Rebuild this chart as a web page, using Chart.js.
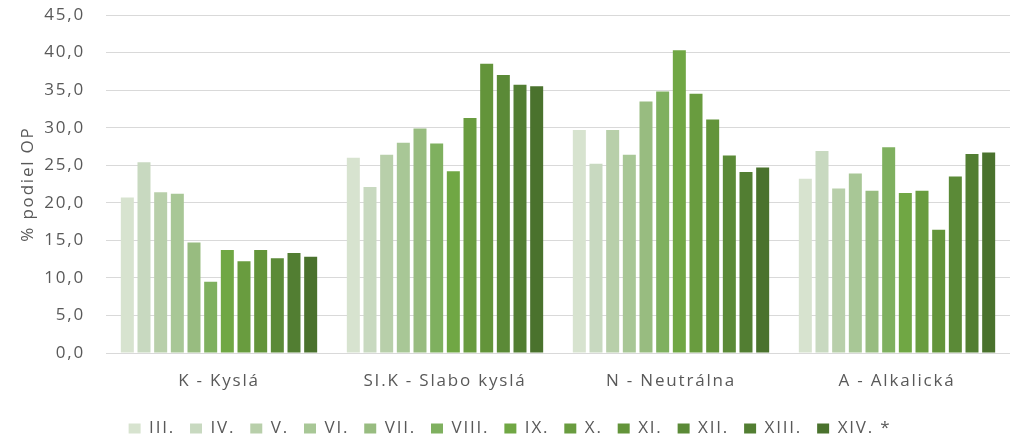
<!DOCTYPE html>
<html>
<head>
<meta charset="utf-8">
<script src="https://cdn.jsdelivr.net/npm/chart.js@4"></script>
<style>
  html, body { margin: 0; padding: 0; background: #ffffff; }
  #wrap { width: 1010px; height: 444px; position: relative; }
</style>
</head>
<body>
<div id="wrap"><canvas id="chart"></canvas></div>
<script>
// Categories (soil reaction classes)
const categories = ['K - Kyslá', 'SI.K - Slabo kyslá', 'N - Neutrálna', 'A - Alkalická'];

// Series names (legend)
const seriesNames = ['III.', 'IV.', 'V.', 'VI.', 'VII.', 'VIII.', 'IX.', 'X.', 'XI.', 'XII.', 'XIII.', 'XIV. *'];

// Values per series, in category order: K, SI.K, N, A
const valIII  = [20.7, 26.0, 29.7, 23.2];
const valIV   = [25.4, 22.1, 25.2, 26.9];
const valV    = [21.4, 26.4, 29.7, 21.9];
const valVI   = [21.2, 28.0, 26.4, 23.9];
const valVII  = [14.7, 29.9, 33.5, 21.6];
const valVIII = [9.5, 27.9, 34.8, 27.4];
const valIX   = [13.7, 24.2, 40.3, 21.3];
const valX    = [12.2, 31.3, 34.5, 21.6];
const valXI   = [13.7, 38.5, 31.1, 16.4];
const valXII  = [12.6, 37.0, 26.3, 23.5];
const valXIII = [13.3, 35.7, 24.1, 26.5];
const valXIV  = [12.8, 35.5, 24.7, 26.7];

const seriesValues = [valIII, valIV, valV, valVI, valVII, valVIII, valIX, valX, valXI, valXII, valXIII, valXIV];

// Green ramp, light to dark
const seriesColors = [
    '#d7e3cf', '#c8d9c0', '#b8cfaa', '#a8c796', '#98bc80', '#7fb05f',
    '#70a744', '#699c3f', '#63943a', '#5b8a37', '#527e32', '#4a722d'
];

const fontFamily = '"Open Sans", "Liberation Sans", sans-serif';
const fontSize = 17;
const textColor = '#595959';
const letterSpacing = '1.8px';

function formatTick(value) {
    return value.toFixed(1).replace('.', ',');
}

// Canvas state is reset on resize, so set the spacing before every layout and draw.
// The legend is also nudged down a little after layout.
const spacingPlugin = {
    id: 'letterSpacing',
    beforeUpdate: function(chart) { chart.ctx.letterSpacing = letterSpacing; },
    beforeLayout: function(chart) { chart.ctx.letterSpacing = letterSpacing; },
    afterLayout: function(chart) {
        if (chart.legend) {
            chart.legend.top += 3;
            chart.legend.bottom += 3;
        }
    },
    beforeDraw: function(chart) { chart.ctx.letterSpacing = letterSpacing; }
};

const datasets = seriesNames.map(function(name, i) {
    return {
        label: name,
        data: seriesValues[i],
        backgroundColor: seriesColors[i],
        borderWidth: 0,
        categoryPercentage: 0.885,
        barPercentage: 0.78
    };
});

const ctx = document.getElementById('chart').getContext('2d');
new Chart(ctx, {
    type: 'bar',
    data: {
        labels: categories,
        datasets: datasets
    },
    plugins: [spacingPlugin],
    options: {
        responsive: true,
        maintainAspectRatio: false,
        animation: false,
        layout: {
            padding: { top: 15, right: 0, left: 10, bottom: 0 }
        },
        scales: {
            x: {
                grid: { display: false, drawTicks: false },
                border: { display: true, color: '#d9d9d9', width: 1 },
                ticks: {
                    color: textColor,
                    font: { family: fontFamily, size: fontSize },
                    padding: 18
                },
                afterFit: function(scale) { scale.height = 49; }
            },
            y: {
                min: 0,
                max: 45,
                ticks: {
                    stepSize: 5,
                    color: textColor,
                    font: { family: fontFamily, size: fontSize },
                    padding: 21,
                    callback: function(value) { return formatTick(value); }
                },
                grid: { color: '#d9d9d9', lineWidth: 1, drawTicks: false },
                border: { display: false },
                title: {
                    display: true,
                    text: '% podiel OP',
                    color: textColor,
                    font: { family: fontFamily, size: fontSize },
                    padding: { top: 8, bottom: 0 }
                },
                afterFit: function(scale) {
                    scale.width = 96;
                    scale.paddingTop = 0;
                    scale.paddingBottom = 0;
                }
            }
        },
        plugins: {
            legend: {
                position: 'bottom',
                labels: {
                    color: textColor,
                    font: { family: fontFamily, size: fontSize },
                    boxWidth: 12,
                    boxHeight: 10,
                    padding: 15
                }
            },
            tooltip: { enabled: false }
        }
    }
});
</script>
</body>
</html>
